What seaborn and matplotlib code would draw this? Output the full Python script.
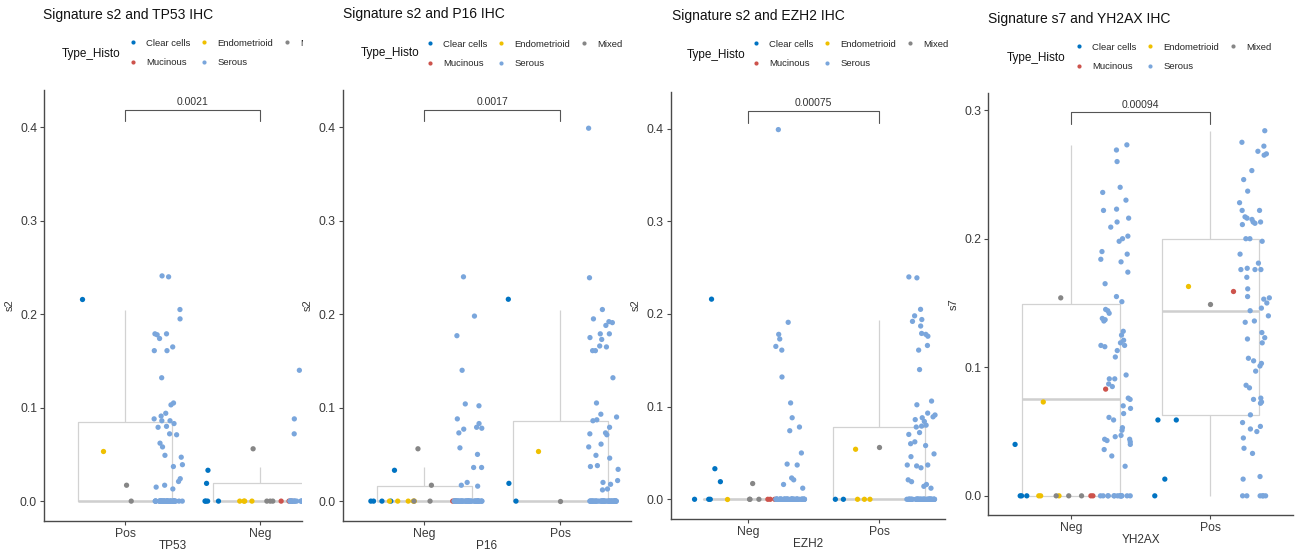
import numpy as np
import pandas as pd
import matplotlib
matplotlib.use("Agg")
import matplotlib.pyplot as plt
import seaborn as sns
from matplotlib.lines import Line2D
from matplotlib.patches import Rectangle

# ---------------- data ----------------
HISTO = ["Clear cells", "Endometrioid", "Mixed", "Mucinous", "Serous"]
PALETTE = ["#0073C2", "#EFC000", "#868686", "#CD534C", "#7AA6DC"]

# Signature s2 vs TP53
tp53_pos = {
    "Clear cells": [0.216],
    "Endometrioid": [0.054],
    "Mixed": [0.017, 0.0],
    "Mucinous": [],
    "Serous": [0.241, 0.240, 0.205, 0.195, 0.178, 0.174, 0.179, 0.179, 0.161, 0.161,
               0.165, 0.132, 0.105, 0.103, 0.088, 0.086, 0.091, 0.094, 0.086, 0.083,
               0.080, 0.079, 0.072, 0.071, 0.058, 0.062, 0.049, 0.047, 0.039, 0.037,
               0.024, 0.021, 0.017, 0.015, 0.013],
}
tp53_pos_serous_zeros = 40
tp53_neg = {
    "Clear cells": [0.033, 0.019, 0.0, 0.0, 0.0, 0.0],
    "Endometrioid": [0.0, 0.0, 0.0, 0.0],
    "Mixed": [0.056, 0.0, 0.0, 0.0],
    "Mucinous": [0.0, 0.0, 0.0],
    "Serous": [0.198, 0.187, 0.180, 0.140, 0.106, 0.088, 0.072, 0.057, 0.037, 0.035,
               0.020, 0.019],
}
tp53_neg_serous_zeros = 25

# Signature s2 vs P16
p16_neg = {
    "Clear cells": [0.033, 0.0, 0.0, 0.0, 0.0],
    "Endometrioid": [0.0, 0.0, 0.0, 0.0, 0.0],
    "Mixed": [0.056, 0.017, 0.0, 0.0],
    "Mucinous": [0.0, 0.0],
    "Serous": [0.240, 0.198, 0.177, 0.140, 0.104, 0.102, 0.088, 0.083, 0.079, 0.078,
               0.077, 0.073, 0.057, 0.050, 0.036, 0.036, 0.020, 0.017, 0.016],
}
p16_neg_serous_zeros = 49
p16_pos = {
    "Clear cells": [0.216, 0.019, 0.0],
    "Endometrioid": [0.054],
    "Mixed": [0.0],
    "Mucinous": [],
    "Serous": [0.399, 0.239, 0.205, 0.195, 0.192, 0.191, 0.188, 0.179, 0.179, 0.175,
               0.173, 0.166, 0.165, 0.161, 0.161, 0.132, 0.105, 0.093, 0.090, 0.087,
               0.086, 0.079, 0.073, 0.071, 0.072, 0.061, 0.058, 0.049, 0.046, 0.037,
               0.038, 0.034, 0.022, 0.020, 0.018, 0.013, 0.012],
}
p16_pos_serous_zeros = 43

# Signature s2 vs EZH2
ezh2_neg = {
    "Clear cells": [0.216, 0.033, 0.019, 0.0, 0.0, 0.0],
    "Endometrioid": [0.0],
    "Mixed": [0.017, 0.0, 0.0, 0.0],
    "Mucinous": [0.0, 0.0, 0.0],
    "Serous": [0.399, 0.191, 0.178, 0.173, 0.165, 0.161, 0.132, 0.104, 0.088, 0.078,
               0.074, 0.050, 0.038, 0.037, 0.023, 0.021, 0.016, 0.012],
}
ezh2_neg_serous_zeros = 58
ezh2_pos = {
    "Clear cells": [0.0, 0.0],
    "Endometrioid": [0.054, 0.0, 0.0, 0.0],
    "Mixed": [0.056],
    "Mucinous": [],
    "Serous": [0.240, 0.239, 0.205, 0.198, 0.194, 0.192, 0.187, 0.179, 0.178, 0.176,
               0.166, 0.161, 0.140, 0.106, 0.102, 0.093, 0.091, 0.089, 0.088, 0.086,
               0.084, 0.080, 0.079, 0.078, 0.072, 0.070, 0.062, 0.060, 0.058, 0.049,
               0.046, 0.037, 0.037, 0.036, 0.034, 0.021, 0.019, 0.016, 0.014, 0.012],
}
ezh2_pos_serous_zeros = 46

# Signature s7 vs YH2AX
yh2ax_neg = {
    "Clear cells": [0.040, 0.0, 0.0, 0.0],
    "Endometrioid": [0.073, 0.0, 0.0, 0.0],
    "Mixed": [0.154, 0.0, 0.0, 0.0],
    "Mucinous": [0.083, 0.0, 0.0],
    "Serous": [0.273, 0.269, 0.260, 0.240, 0.236, 0.230, 0.222, 0.223, 0.216, 0.213,
               0.209, 0.200, 0.202, 0.198, 0.190, 0.188, 0.184, 0.182, 0.174, 0.165,
               0.155, 0.151, 0.145, 0.144, 0.138, 0.137, 0.136, 0.142, 0.128, 0.125,
               0.121, 0.119, 0.117, 0.116, 0.113, 0.117, 0.108, 0.094, 0.091, 0.091,
               0.087, 0.085, 0.076, 0.075, 0.070, 0.068, 0.064, 0.061, 0.059, 0.053,
               0.051, 0.047, 0.046, 0.044, 0.044, 0.043, 0.042, 0.036, 0.040, 0.031,
               0.023],
}
yh2ax_neg_serous_zeros = 14
yh2ax_pos = {
    "Clear cells": [0.059, 0.059, 0.013, 0.0],
    "Endometrioid": [0.163],
    "Mixed": [0.149],
    "Mucinous": [0.159],
    "Serous": [0.284, 0.275, 0.272, 0.268, 0.266, 0.265, 0.253, 0.246, 0.237, 0.228,
               0.222, 0.222, 0.217, 0.216, 0.215, 0.213, 0.213, 0.212, 0.211, 0.200,
               0.200, 0.198, 0.188, 0.181, 0.176, 0.176, 0.176, 0.177, 0.170, 0.161,
               0.155, 0.154, 0.153, 0.150, 0.146, 0.144, 0.140, 0.136, 0.135, 0.127,
               0.122, 0.123, 0.119, 0.107, 0.105, 0.103, 0.101, 0.097, 0.086, 0.084,
               0.076, 0.075, 0.073, 0.072, 0.063, 0.057, 0.054, 0.052, 0.050, 0.045,
               0.037, 0.033, 0.015, 0.013],
}
yh2ax_pos_serous_zeros = 6

TITLES = ["Signature s2 and TP53 IHC", "Signature s2 and P16 IHC",
          "Signature s2 and EZH2 IHC", "Signature s7 and YH2AX IHC"]
XLABELS = ["TP53", "P16", "EZH2", "YH2AX"]
YLABELS = ["s2", "s2", "s2", "s7"]
ORDERS = [["Pos", "Neg"], ["Neg", "Pos"], ["Neg", "Pos"], ["Neg", "Pos"]]
PVALUES = ["0.0021", "0.0017", "0.00075", "0.00094"]


def build(groups):
    rows = []
    for cat, (d, nz) in groups.items():
        for h in HISTO:
            vals = list(d[h]) + ([0.0] * nz if h == "Serous" else [])
            for v in vals:
                rows.append((cat, h, v))
    return pd.DataFrame(rows, columns=["grp", "Type_Histo", "val"])


frames = [
    build({"Pos": (tp53_pos, tp53_pos_serous_zeros), "Neg": (tp53_neg, tp53_neg_serous_zeros)}),
    build({"Neg": (p16_neg, p16_neg_serous_zeros), "Pos": (p16_pos, p16_pos_serous_zeros)}),
    build({"Neg": (ezh2_neg, ezh2_neg_serous_zeros), "Pos": (ezh2_pos, ezh2_pos_serous_zeros)}),
    build({"Neg": (yh2ax_neg, yh2ax_neg_serous_zeros), "Pos": (yh2ax_pos, yh2ax_pos_serous_zeros)}),
]
s2_max = max(f["val"].max() for f in frames[:3])
bracket_tops = [1.05 * s2_max] * 3 + [1.05 * frames[3]["val"].max()]

# ---------------- layout ----------------
W, H = 1298, 551
sns.set_theme(style="ticks")
plt.rcParams["font.family"] = ["Liberation Sans", "DejaVu Sans"]
np.random.seed(3)

fig = plt.figure(figsize=(W / 100, H / 100), dpi=100)
fig.patch.set_facecolor("white")

# axes rectangles in pixels: left, right, top, bottom
AX_PX = [(44, 302, 90, 520.7), (342.7, 630.7, 90, 520.7),
         (670.7, 945, 91.7, 518.7), (988.3, 1293, 93.3, 515)]
XLIMS = [(-0.6, 1.31), (-0.6, 1.52), (-0.594, 1.505), (-0.594, 1.594)]
YTICKS = [[0, 0.1, 0.2, 0.3, 0.4]] * 3 + [[0, 0.1, 0.2, 0.3]]
TITLE_PX = [(43, 15), (343, 14), (672, 16), (988, 19)]
LEGTITLE_PX = [(62, 54), (361, 53), (687, 55), (1007, 58)]
LEGDOT_PX = [(133, 53), (430, 54), (756, 54), (1079, 57)]

line_col = "#4A4A4A"
box_col = "#D2D2D2"
leg_fs = 6.8
leg_fs_px = leg_fs * 100 / 72

for i in range(4):
    l, r, t, b = AX_PX[i]
    ax = fig.add_axes([l / W, 1 - b / H, (r - l) / W, (b - t) / H])
    df = frames[i]
    order = ORDERS[i]
    sns.boxplot(data=df, x="grp", y="val", order=order, ax=ax, width=0.7,
                fill=False, color=box_col, linewidth=0.9, showfliers=False,
                showcaps=False, medianprops={"linewidth": 1.8, "color": "#CFCFCF"})
    sns.stripplot(data=df, x="grp", y="val", order=order, hue="Type_Histo",
                  hue_order=HISTO, palette=PALETTE, dodge=True, jitter=0.55,
                  size=3.8, linewidth=0, ax=ax, legend=False, zorder=3)
    top = bracket_tops[i]
    tip = 0.03 * top
    ax.plot([0, 0, 1, 1], [top - tip, top, top, top - tip], color="#555555",
            lw=0.8, clip_on=False, zorder=4)
    ax.annotate(PVALUES[i], xy=(0.5, top), xytext=(0, 2), textcoords="offset points",
                ha="center", va="bottom", fontsize=7.5, color="#333333")
    ax.set_xlim(*XLIMS[i])
    ax.set_ylim(-0.05 * top, 1.05 * top)
    ax.set_yticks(YTICKS[i])
    ax.set_yticklabels([f"{v:.1f}" for v in YTICKS[i]])
    ax.set_xlabel(XLABELS[i], fontsize=8.5, color="#333333", labelpad=0)
    ax.set_ylabel(YLABELS[i], fontsize=8, color="#333333", labelpad=4)
    sns.despine(ax=ax)
    for s in ("left", "bottom"):
        ax.spines[s].set_color(line_col)
        ax.spines[s].set_linewidth(1.0)
    ax.tick_params(axis="both", length=3, width=0.8, color=line_col,
                   labelsize=8.8, labelcolor="#3A3A3A", pad=2)
    ax.set_facecolor("none")

    # title
    tx, ty = TITLE_PX[i]
    fig.text(tx / W, 1 - ty / H, TITLES[i], fontsize=10, va="center", ha="left",
             color="#111111")
    # legend
    lx, ly = LEGTITLE_PX[i]
    fig.text(lx / W, 1 - ly / H, "Type_Histo", fontsize=8.5, va="center",
             ha="left", color="#111111")
    idx = [0, 3, 1, 4, 2]
    handles = [Line2D([], [], marker="o", ls="", color=PALETTE[k], markersize=3,
                      markeredgewidth=0) for k in idx]
    labels = [HISTO[k] for k in idx]
    dx, dy = LEGDOT_PX[i]
    fig.legend(handles, labels, loc="center left",
               bbox_to_anchor=((dx - leg_fs_px / 2) / W, 1 - dy / H), ncol=3,
               frameon=False, fontsize=leg_fs, handlelength=1, handletextpad=0.88,
               columnspacing=0.98, labelspacing=1.15, borderpad=0, borderaxespad=0)

# first panel is cropped on its right edge
fig.add_artist(Rectangle((303 / W, 1 - 64 / H), 36 / W, 34 / H,
                         transform=fig.transFigure, facecolor="white",
                         edgecolor="none", zorder=20))

fig.savefig("out.png", dpi=100, facecolor="white")
